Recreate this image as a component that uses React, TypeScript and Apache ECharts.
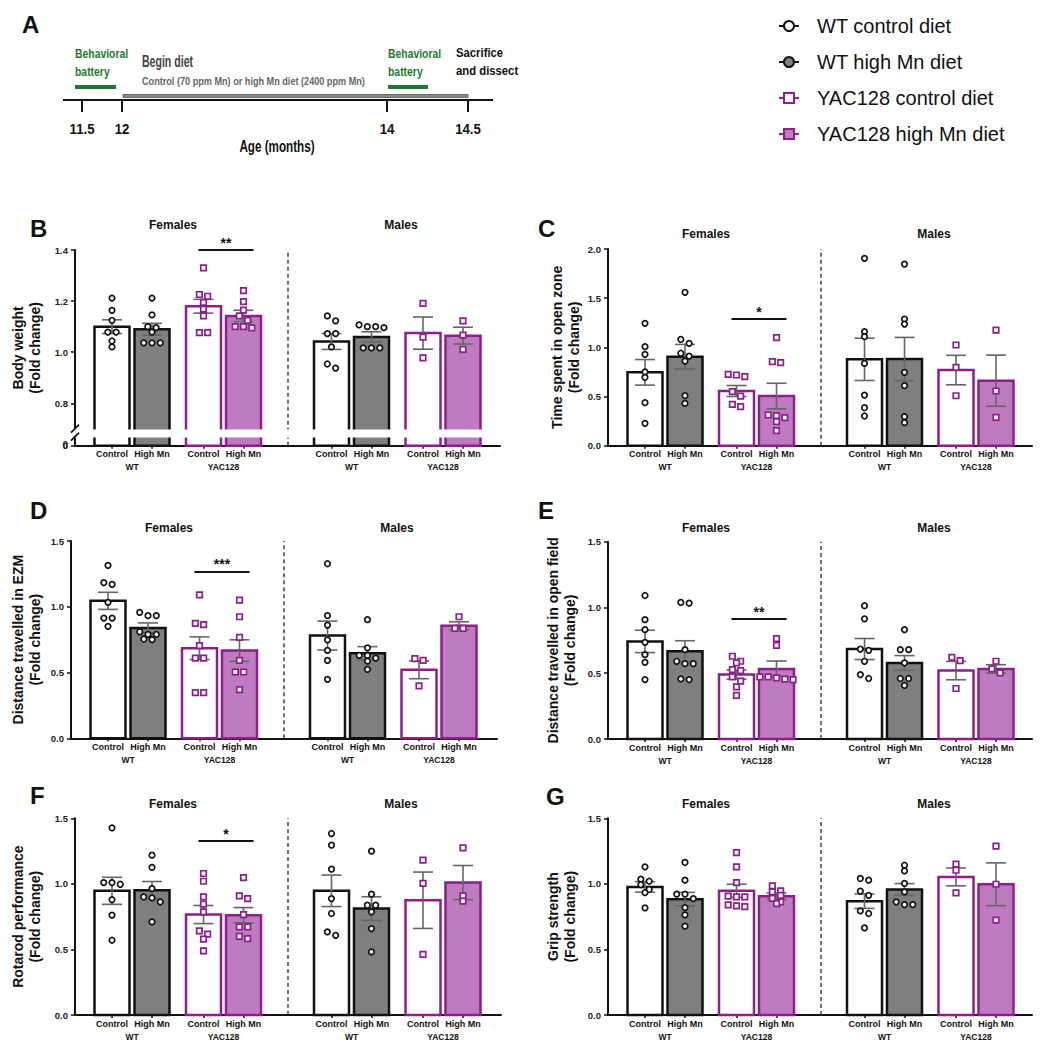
import React, { useEffect, useRef } from 'react';
import * as echarts from 'echarts';

const FONT = "'Liberation Sans', Arial, Helvetica, sans-serif";

// ---------- labels ----------
const CATEGORY_LABELS = ['Control', 'High Mn', 'Control', 'High Mn', 'Control', 'High Mn', 'Control', 'High Mn'];
const GENOTYPE_LABELS = ['WT', 'YAC128', 'WT', 'YAC128'];
const SEX_LABELS = ['Females', 'Males'];
const LEGEND_NAMES = ['WT control diet', 'WT high Mn diet', 'YAC128 control diet', 'YAC128 high Mn diet'];
const TIMELINE_AGES = ['11.5', '12', '14', '14.5'];

// ---------- data (order: F WT ctrl, F WT high, F YAC ctrl, F YAC high, M WT ctrl, M WT high, M YAC ctrl, M YAC high) ----------
const B_MEAN = [1.100, 1.090, 1.180, 1.142, 1.042, 1.060, 1.075, 1.065];
const B_SEM = [0.027, 0.023, 0.027, 0.022, 0.031, 0.020, 0.063, 0.033];
const B_POINTS = [
  [1.212, 1.164, 1.125, 1.079, 1.079, 1.044, 1.021],
  [1.212, 1.146, 1.100, 1.096, 1.079, 1.037, 1.037, 1.037],
  [1.330, 1.226, 1.219, 1.195, 1.169, 1.142, 1.077, 1.077],
  [1.241, 1.198, 1.165, 1.142, 1.125, 1.100, 1.100, 1.095],
  [1.142, 1.123, 1.073, 1.073, 1.021, 0.954, 0.938],
  [1.107, 1.100, 1.100, 1.096, 1.017, 1.017, 1.017],
  [1.191, 1.059, 0.978],
  [1.123, 1.067, 1.011],
];

const C_MEAN = [0.746, 0.905, 0.556, 0.505, 0.878, 0.881, 0.769, 0.661];
const C_SEM = [0.130, 0.125, 0.056, 0.130, 0.215, 0.220, 0.150, 0.260];
const C_POINTS = [
  [1.244, 1.007, 0.929, 0.750, 0.695, 0.437, 0.227],
  [1.560, 1.080, 1.040, 0.940, 0.910, 0.860, 0.510, 0.430],
  [0.725, 0.719, 0.702, 0.549, 0.505, 0.420, 0.397],
  [1.098, 0.854, 0.844, 0.312, 0.305, 0.285, 0.244, 0.153],
  [1.905, 1.159, 1.108, 0.837, 0.515, 0.386, 0.302],
  [1.847, 1.288, 1.237, 0.746, 0.610, 0.295, 0.234],
  [1.024, 0.797, 0.508],
  [1.176, 0.556, 0.288],
];

const D_MEAN = [1.045, 0.839, 0.685, 0.667, 0.781, 0.647, 0.521, 0.856];
const D_SEM = [0.065, 0.038, 0.086, 0.082, 0.110, 0.050, 0.068, 0.030];
const D_POINTS = [
  [1.315, 1.184, 1.171, 1.033, 0.914, 0.914, 0.851],
  [0.957, 0.932, 0.932, 0.810, 0.790, 0.790, 0.755, 0.750],
  [1.091, 0.874, 0.864, 0.705, 0.610, 0.610, 0.348, 0.348],
  [1.050, 0.924, 0.768, 0.592, 0.504, 0.504, 0.370],
  [1.327, 0.932, 0.861, 0.748, 0.668, 0.592, 0.448],
  [0.902, 0.688, 0.630, 0.630, 0.610, 0.587, 0.524],
  [0.605, 0.592, 0.398],
  [0.924, 0.836, 0.836],
];

const E_MEAN = [0.742, 0.667, 0.490, 0.533, 0.684, 0.578, 0.520, 0.533];
const E_SEM = [0.085, 0.080, 0.035, 0.060, 0.080, 0.056, 0.070, 0.032];
const E_POINTS = [
  [1.091, 0.907, 0.831, 0.735, 0.641, 0.583, 0.452],
  [1.038, 1.033, 0.679, 0.591, 0.573, 0.573, 0.457, 0.452],
  [0.629, 0.591, 0.578, 0.528, 0.520, 0.472, 0.440, 0.396, 0.331],
  [0.763, 0.712, 0.472, 0.472, 0.465, 0.455, 0.452],
  [1.013, 0.914, 0.684, 0.674, 0.591, 0.490, 0.460],
  [0.831, 0.679, 0.679, 0.578, 0.460, 0.460, 0.407],
  [0.621, 0.596, 0.384],
  [0.591, 0.533, 0.503],
];

const F_MEAN = [0.947, 0.952, 0.766, 0.761, 0.947, 0.812, 0.875, 1.010];
const F_SEM = [0.103, 0.066, 0.069, 0.058, 0.120, 0.090, 0.215, 0.130];
const F_POINTS = [
  [1.427, 1.010, 1.010, 0.997, 0.880, 0.761, 0.570],
  [1.219, 1.125, 0.964, 0.900, 0.893, 0.863, 0.710],
  [1.079, 1.020, 0.901, 0.845, 0.786, 0.641, 0.616, 0.578, 0.489],
  [1.048, 0.908, 0.888, 0.766, 0.672, 0.672, 0.600, 0.583],
  [1.384, 1.295, 1.112, 0.888, 0.774, 0.634, 0.608],
  [1.249, 0.921, 0.837, 0.837, 0.786, 0.659, 0.481],
  [1.181, 1.003, 0.463],
  [1.275, 0.908, 0.868],
];

const G_MEAN = [0.977, 0.883, 0.947, 0.906, 0.868, 0.957, 1.053, 0.997];
const G_SEM = [0.040, 0.052, 0.050, 0.025, 0.055, 0.045, 0.068, 0.163];
const G_POINTS = [
  [1.130, 1.036, 1.020, 0.995, 0.957, 0.934, 0.817],
  [1.163, 1.028, 0.921, 0.921, 0.888, 0.819, 0.763, 0.677],
  [1.239, 1.130, 1.010, 0.906, 0.901, 0.901, 0.840, 0.832, 0.827],
  [0.985, 0.947, 0.939, 0.913, 0.890, 0.863, 0.850],
  [1.041, 1.028, 0.944, 0.913, 0.794, 0.774, 0.664],
  [1.142, 1.099, 1.003, 0.939, 0.863, 0.842, 0.842],
  [1.150, 1.104, 0.931],
  [1.288, 0.997, 0.723],
];

// significance (YAC128 females): [line value, stars]
const B_SIG: [number, string] = [1.4, '**'];
const C_SIG: [number, string] = [1.29, '*'];
const D_SIG: [number, string] = [1.27, '***'];
const E_SIG: [number, string] = [0.912, '**'];
const F_SIG: [number, string] = [1.325, '*'];

// ---------- layout / style ----------
const BAR_X = [37, 77, 128.5, 168.5, 256.5, 296.5, 348, 388];
const PAIR_X = [57, 148.5, 276.5, 368];
const SEX_X = [98, 326];
const DIVIDER_X = 213;
const BAR_W = 35;
const CAP_W = 20;
const PURPLE = '#8b1f8c';
const PURPLE_FILL = '#bf7bbf';
const GRAY = '#7f7f7f';
const GROUP_STYLE = [
  { fill: '#ffffff', stroke: '#111111' },
  { fill: GRAY, stroke: '#111111' },
  { fill: '#ffffff', stroke: PURPLE },
  { fill: PURPLE_FILL, stroke: PURPLE },
];

const PANELS = [
  { letter: 'B', lx: 30, ly: 228, mean: B_MEAN, sem: B_SEM, pts: B_POINTS, sig: B_SIG as [number, string] | null,
    name: 'Body weight\n(Fold change)', left: 75, top: 250, width: 425, height: 195.7, max: 1.4,
    ticks: [0, 0.8, 1.0, 1.2, 1.4], brk: [0.035, 0.7], ppu: 253, topMargin: 19, nameGap: 32 },
  { letter: 'C', lx: 538, ly: 228, mean: C_MEAN, sem: C_SEM, pts: C_POINTS, sig: C_SIG,
    name: 'Time spent in open zone\n(Fold change)', left: 608, top: 249, width: 424, height: 196.7, max: 2.0,
    ticks: null, brk: null, ppu: 98.3, topMargin: 9, nameGap: 26 },
  { letter: 'D', lx: 30, ly: 510, mean: D_MEAN, sem: D_SEM, pts: D_POINTS, sig: D_SIG,
    name: 'Distance travelled in EZM\n(Fold change)', left: 71, top: 541, width: 426, height: 197.3, max: 1.5,
    ticks: null, brk: null, ppu: 131.5, topMargin: 7, nameGap: 28 },
  { letter: 'E', lx: 538, ly: 510, mean: E_MEAN, sem: E_SEM, pts: E_POINTS, sig: E_SIG,
    name: 'Distance travelled in open field\n(Fold change)', left: 608, top: 541.7, width: 424, height: 197.3, max: 1.5,
    ticks: null, brk: null, ppu: 131.5, topMargin: 8, nameGap: 30 },
  { letter: 'F', lx: 30, ly: 795, mean: F_MEAN, sem: F_SEM, pts: F_POINTS, sig: F_SIG,
    name: 'Rotarod performance\n(Fold change)', left: 75, top: 818.3, width: 426, height: 196.7, max: 1.5,
    ticks: null, brk: null, ppu: 131.1, topMargin: 8, nameGap: 32 },
  { letter: 'G', lx: 546, ly: 796, mean: G_MEAN, sem: G_SEM, pts: G_POINTS, sig: null,
    name: 'Grip strength\n(Fold change)', left: 608, top: 818.3, width: 424, height: 196.7, max: 1.5,
    ticks: null, brk: null, ppu: 131.1, topMargin: 8, nameGap: 30 },
];

function nearestIndex(arr: number[], v: number) {
  let best = 0;
  for (let i = 1; i < arr.length; i++) if (Math.abs(arr[i] - v) < Math.abs(arr[best] - v)) best = i;
  return best;
}

// column scatter layout: points closer than `thresh` px vertically share a row
function swarm(vals: number[], ppu: number, step = 8.3, thresh = 5) {
  const sorted = [...vals].sort((a, b) => b - a);
  const rows: number[][] = [];
  for (const v of sorted) {
    const row = rows[rows.length - 1];
    if (row && (row[0] - v) * ppu < thresh) row.push(v);
    else rows.push([v]);
  }
  const out: [number, number][] = [];
  rows.forEach((row) => row.forEach((v, k) => out.push([(k - (row.length - 1) / 2) * step, v])));
  return out;
}

function buildOption() {
  const grid: any[] = [];
  const xAxis: any[] = [];
  const yAxis: any[] = [];
  const series: any[] = [];
  const graphic: any[] = [];
  const axisLabelBase = { fontFamily: FONT, fontWeight: 'bold', color: '#111' };

  PANELS.forEach((p, i) => {
    grid.push({ left: p.left, top: p.top, width: p.width, height: p.height, containLabel: false });
    xAxis.push({
      gridIndex: i, type: 'value', min: 0, max: p.width, position: 'bottom',
      axisLine: { show: true, onZero: false, lineStyle: { color: '#111', width: 2 } },
      axisTick: { show: true, length: 3, customValues: BAR_X, lineStyle: { color: '#111', width: 1.5 } },
      splitLine: { show: false },
      axisLabel: { ...axisLabelBase, fontSize: 9, margin: 4, customValues: BAR_X,
        formatter: (v: number) => CATEGORY_LABELS[nearestIndex(BAR_X, v)] },
    });
    xAxis.push({
      gridIndex: i, type: 'value', min: 0, max: p.width, position: 'bottom', offset: 13,
      axisLine: { show: false }, axisTick: { show: false }, splitLine: { show: false },
      axisLabel: { ...axisLabelBase, fontSize: 8.5, margin: 4, customValues: PAIR_X,
        formatter: (v: number) => GENOTYPE_LABELS[nearestIndex(PAIR_X, v)] },
    });
    xAxis.push({
      gridIndex: i, type: 'value', min: 0, max: p.width, position: 'top',
      axisLine: { show: false }, axisTick: { show: false }, splitLine: { show: false },
      axisLabel: { ...axisLabelBase, fontSize: 12, margin: p.topMargin, customValues: SEX_X,
        formatter: (v: number) => SEX_LABELS[nearestIndex(SEX_X, v)] },
    });
    const y: any = {
      gridIndex: i, type: 'value', min: 0, max: p.max,
      axisLine: { show: true, onZero: false, lineStyle: { color: '#111', width: 2 } },
      axisTick: { show: true, length: 4, lineStyle: { color: '#111', width: 1.5 } },
      splitLine: { show: false },
      axisLabel: { ...axisLabelBase, color: '#222', fontSize: 9.5, margin: 7, showMinLabel: true, showMaxLabel: true,
        formatter: (v: number) => (Math.abs(v) < 1e-9 && p.brk ? '0' : Number(v).toFixed(1)) },
      name: p.name, nameLocation: 'middle', nameGap: p.nameGap, nameRotate: 90,
      nameTextStyle: { fontFamily: FONT, fontWeight: 'bold', fontSize: 14, lineHeight: 17, color: '#111' },
    };
    if (p.ticks) {
      y.axisLabel.customValues = p.ticks;
      y.axisTick.customValues = p.ticks;
    } else {
      y.interval = 0.5;
    }
    if (p.brk) {
      y.breaks = [{ start: p.brk[0], end: p.brk[1], gap: '4%' }];
      y.breakArea = {
        show: true,
        itemStyle: { color: '#ffffff', borderColor: 'rgba(0,0,0,0)', borderWidth: 0, opacity: 1 },
        zigzagAmplitude: 0, zigzagZ: 100,
      };
      const by = p.top + p.height;
      // "0" under the broken axis (the axis drops its own min label when broken) and the "//" break marks
      graphic.push(
        {
          type: 'text', id: 'zero' + p.letter, x: p.left - 7, y: by, z: 1000,
          style: { text: '0', fill: '#222', font: `bold 10px ${FONT}`, textAlign: 'right', textVerticalAlign: 'middle' },
        },
        { type: 'rect', id: 'brkGap' + p.letter, z: 999, shape: { x: p.left - 2, y: by - 17, width: 4, height: 8 }, style: { fill: '#fff' } },
        { type: 'line', id: 'brkA' + p.letter, z: 1000, shape: { x1: p.left - 4, y1: by - 13, x2: p.left + 4, y2: by - 21 }, style: { stroke: '#111', lineWidth: 1.8 } },
        { type: 'line', id: 'brkB' + p.letter, z: 1000, shape: { x1: p.left - 4, y1: by - 5, x2: p.left + 4, y2: by - 13 }, style: { stroke: '#111', lineWidth: 1.8 } },
      );
    }
    yAxis.push(y);

    const xi = 3 * i;
    series.push({
      type: 'custom', name: 'bars' + p.letter, xAxisIndex: xi, yAxisIndex: i, z: 2, silent: true,
      data: p.mean.map((m, k) => [BAR_X[k], m, k]),
      renderItem: (_params: any, api: any) => {
        const x = api.value(0), m = api.value(1), k = api.value(2);
        const a = api.coord([x - BAR_W / 2, m]);
        const b = api.coord([x + BAR_W / 2, 0]);
        const st = GROUP_STYLE[k % 4];
        return {
          type: 'rect',
          shape: { x: a[0], y: a[1], width: b[0] - a[0], height: b[1] - a[1] },
          style: { fill: st.fill, stroke: st.stroke, lineWidth: 2.5 },
        };
      },
    });
    series.push({
      type: 'custom', name: 'sem' + p.letter, xAxisIndex: xi, yAxisIndex: i, z: 3, silent: true,
      data: p.mean.map((m, k) => [BAR_X[k], m, p.sem[k]]),
      renderItem: (_params: any, api: any) => {
        const x = api.value(0), m = api.value(1), s = api.value(2);
        const hi = api.coord([x, m + s]);
        const lo = api.coord([x, m - s]);
        const l = api.coord([x - CAP_W / 2, m]);
        const r = api.coord([x + CAP_W / 2, m]);
        const hw = (r[0] - l[0]) / 2;
        const style = { stroke: '#666', lineWidth: 1.6 };
        return {
          type: 'group',
          children: [
            { type: 'line', shape: { x1: hi[0], y1: hi[1], x2: lo[0], y2: lo[1] }, style },
            { type: 'line', shape: { x1: hi[0] - hw, y1: hi[1], x2: hi[0] + hw, y2: hi[1] }, style },
            { type: 'line', shape: { x1: lo[0] - hw, y1: lo[1], x2: lo[0] + hw, y2: lo[1] }, style },
          ],
        };
      },
    });
    const wtData: [number, number][] = [];
    const yacData: [number, number][] = [];
    p.pts.forEach((vals, k) => {
      const target = k % 4 < 2 ? wtData : yacData;
      swarm(vals, p.ppu).forEach(([dx, v]) => target.push([BAR_X[k] + dx, v]));
    });
    const markData: any[] = [
      { xAxis: DIVIDER_X, lineStyle: { type: [4, 3], color: '#444', width: 1.5 }, label: { show: false } },
    ];
    if (p.sig) {
      markData.push([
        { coord: [BAR_X[2] - 5, p.sig[0]], label: { show: true, position: 'middle', formatter: p.sig[1],
          fontFamily: FONT, fontWeight: 'bold', fontSize: 14, color: '#111', distance: 0 },
          lineStyle: { type: 'solid', color: '#111', width: 2 } },
        { coord: [BAR_X[3] + 10, p.sig[0]] },
      ]);
    }
    series.push({
      type: 'scatter', name: 'wt' + p.letter, xAxisIndex: xi, yAxisIndex: i, z: 4, silent: true,
      symbol: 'circle', symbolSize: 5.5,
      itemStyle: { color: '#ffffff', borderColor: '#111', borderWidth: 1.7, opacity: 1 },
      data: wtData,
      markLine: { silent: true, symbol: ['none', 'none'], animation: false, data: markData },
    });
    series.push({
      type: 'scatter', name: 'yac' + p.letter, xAxisIndex: xi, yAxisIndex: i, z: 4, silent: true,
      symbol: 'rect', symbolSize: 5.5,
      itemStyle: { color: '#ffffff', borderColor: PURPLE, borderWidth: 1.7, opacity: 1 },
      data: yacData,
    });

    graphic.push({
      type: 'text', id: 'letter' + p.letter, x: p.lx, y: p.ly,
      style: { text: p.letter, fill: '#111', font: `bold 24px ${FONT}`, textAlign: 'left', textVerticalAlign: 'middle' },
    });
  });

  // legend dummy series (line + marker icons)
  const legendSymbols = ['circle', 'circle', 'rect', 'rect'];
  const legendFill = ['#ffffff', GRAY, '#ffffff', PURPLE_FILL];
  const legendStroke = ['#111', '#111', PURPLE, PURPLE];
  LEGEND_NAMES.forEach((n, k) => {
    series.push({
      type: 'line', name: n, xAxisIndex: 0, yAxisIndex: 0, data: [],
      symbol: legendSymbols[k], symbolSize: 10,
      itemStyle: { color: legendFill[k], borderColor: legendStroke[k], borderWidth: 2 },
      lineStyle: { color: legendStroke[k], width: 2 },
    });
  });

  // ----- panel A: timeline schematic (condensed text via scaleX) -----
  const TL_X = [82, 122, 387, 468];
  const tlY = 100;
  const tText = (x: number, y: number, text: string, size: number, fill: string, sx: number, align = 'left', lh = 18) => ({
    type: 'text', x, y, scaleX: sx, scaleY: 1,
    style: { text, fill, font: `bold ${size}px ${FONT}`, lineHeight: lh, textAlign: align, textVerticalAlign: 'middle' },
  });
  graphic.push(
    { type: 'text', x: 22, y: 24, style: { text: 'A', fill: '#111', font: `bold 24px ${FONT}`, textVerticalAlign: 'middle' } },
    { type: 'line', shape: { x1: 63, y1: tlY, x2: 493, y2: tlY }, style: { stroke: '#111', lineWidth: 2 } },
    { type: 'rect', shape: { x: 123, y: 94.5, width: 345, height: 3 }, style: { fill: '#8a8a8a', stroke: '#555', lineWidth: 0.8 } },
    { type: 'line', shape: { x1: 75, y1: 87, x2: 116, y2: 87 }, style: { stroke: '#1f7a30', lineWidth: 4 } },
    { type: 'line', shape: { x1: 388, y1: 87, x2: 428, y2: 87 }, style: { stroke: '#1f7a30', lineWidth: 4 } },
    tText(75, 62, 'Behavioral\nbattery', 13, '#1f7a30', 0.8),
    tText(388, 62, 'Behavioral\nbattery', 13, '#1f7a30', 0.8),
    tText(456, 62, 'Sacrifice\nand dissect', 13, '#111', 0.87),
    tText(142, 62, 'Begin diet', 16, '#444', 0.66),
    tText(142, 81, 'Control (70 ppm Mn) or high Mn diet (2400 ppm Mn)', 11, '#666', 0.83),
    tText(277, 146, 'Age (months)', 16, '#111', 0.73, 'center'),
  );
  TIMELINE_AGES.forEach((age, k) => {
    graphic.push(
      { type: 'line', shape: { x1: TL_X[k], y1: tlY, x2: TL_X[k], y2: tlY + 12 }, style: { stroke: '#111', lineWidth: 2 } },
      tText(TL_X[k], 129, age, 15, '#111', 0.88, 'center'),
    );
  });

  return {
    animation: false,
    backgroundColor: '#ffffff',
    textStyle: { fontFamily: FONT },
    grid, xAxis, yAxis, series, graphic,
    legend: {
      orient: 'vertical', left: 773, top: 11, itemWidth: 20, itemHeight: 12.5, itemGap: 16,
      selectedMode: false, data: LEGEND_NAMES,
      textStyle: { fontFamily: FONT, fontSize: 20, color: '#111', padding: [0, 0, 0, 13] },
    },
  };
}

export default function App() {
  const ref = useRef<HTMLDivElement>(null);
  useEffect(() => {
    const chart = echarts.init(ref.current as HTMLDivElement, null, { renderer: 'svg' });
    chart.setOption(buildOption() as any);
    return () => chart.dispose();
  }, []);
  return (
    <div
      ref={ref}
      style={{ position: 'fixed', left: 0, top: 0, width: 1046, height: 1050, background: '#fff' }}
    />
  );
}
